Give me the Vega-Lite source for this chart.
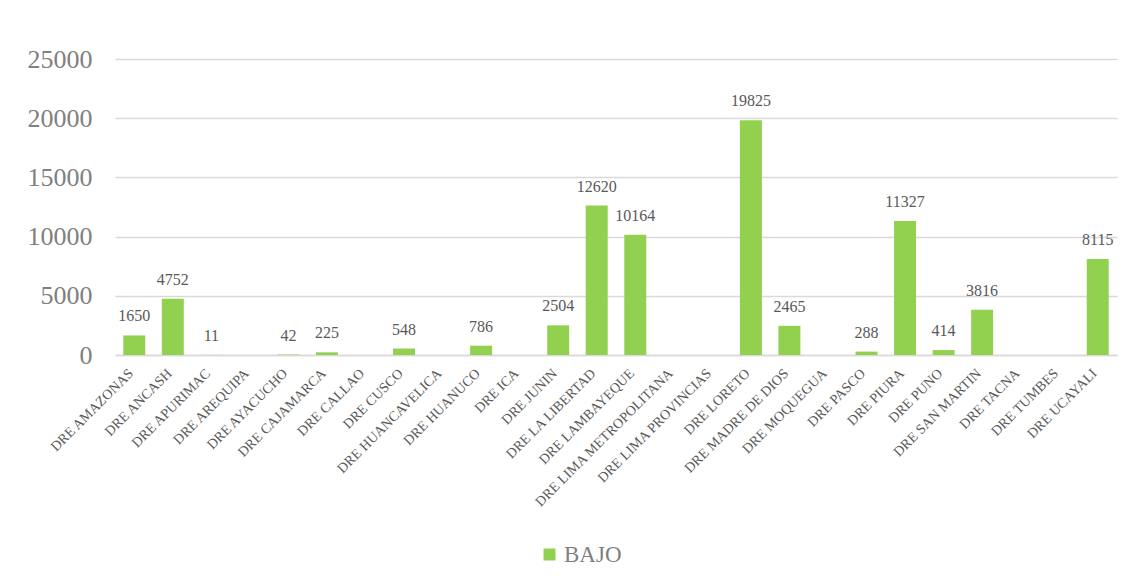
{
  "$schema": "https://vega.github.io/schema/vega-lite/v6.json",
  "width": 1002,
  "height": 296,
  "autosize": {"type": "none"},
  "padding": {"left": 115, "top": 59, "right": 17, "bottom": 230},
  "background": "white",
  "data": {
    "values": [
      {"dre": "DRE AMAZONAS", "nivel": "BAJO", "valor": 1650},
      {"dre": "DRE ANCASH", "nivel": "BAJO", "valor": 4752},
      {"dre": "DRE APURIMAC", "nivel": "BAJO", "valor": 11},
      {"dre": "DRE AREQUIPA", "nivel": "BAJO", "valor": null},
      {"dre": "DRE AYACUCHO", "nivel": "BAJO", "valor": 42},
      {"dre": "DRE CAJAMARCA", "nivel": "BAJO", "valor": 225},
      {"dre": "DRE CALLAO", "nivel": "BAJO", "valor": null},
      {"dre": "DRE CUSCO", "nivel": "BAJO", "valor": 548},
      {"dre": "DRE HUANCAVELICA", "nivel": "BAJO", "valor": null},
      {"dre": "DRE HUANUCO", "nivel": "BAJO", "valor": 786},
      {"dre": "DRE ICA", "nivel": "BAJO", "valor": null},
      {"dre": "DRE JUNIN", "nivel": "BAJO", "valor": 2504},
      {"dre": "DRE LA LIBERTAD", "nivel": "BAJO", "valor": 12620},
      {"dre": "DRE LAMBAYEQUE", "nivel": "BAJO", "valor": 10164},
      {"dre": "DRE LIMA METROPOLITANA", "nivel": "BAJO", "valor": null},
      {"dre": "DRE LIMA PROVINCIAS", "nivel": "BAJO", "valor": null},
      {"dre": "DRE LORETO", "nivel": "BAJO", "valor": 19825},
      {"dre": "DRE MADRE DE DIOS", "nivel": "BAJO", "valor": 2465},
      {"dre": "DRE MOQUEGUA", "nivel": "BAJO", "valor": null},
      {"dre": "DRE PASCO", "nivel": "BAJO", "valor": 288},
      {"dre": "DRE PIURA", "nivel": "BAJO", "valor": 11327},
      {"dre": "DRE PUNO", "nivel": "BAJO", "valor": 414},
      {"dre": "DRE SAN MARTIN", "nivel": "BAJO", "valor": 3816},
      {"dre": "DRE TACNA", "nivel": "BAJO", "valor": null},
      {"dre": "DRE TUMBES", "nivel": "BAJO", "valor": null},
      {"dre": "DRE UCAYALI", "nivel": "BAJO", "valor": 8115}
    ]
  },
  "encoding": {
    "x": {
      "field": "dre",
      "type": "nominal",
      "sort": null,
      "title": null,
      "scale": {
        "domain": ["DRE AMAZONAS", "DRE ANCASH", "DRE APURIMAC", "DRE AREQUIPA", "DRE AYACUCHO", "DRE CAJAMARCA", "DRE CALLAO", "DRE CUSCO", "DRE HUANCAVELICA", "DRE HUANUCO", "DRE ICA", "DRE JUNIN", "DRE LA LIBERTAD", "DRE LAMBAYEQUE", "DRE LIMA METROPOLITANA", "DRE LIMA PROVINCIAS", "DRE LORETO", "DRE MADRE DE DIOS", "DRE MOQUEGUA", "DRE PASCO", "DRE PIURA", "DRE PUNO", "DRE SAN MARTIN", "DRE TACNA", "DRE TUMBES", "DRE UCAYALI"],
        "paddingInner": 0.43,
        "paddingOuter": 0.215
      },
      "axis": {
        "labelAngle": -45,
        "labelFont": "Liberation Serif",
        "labelFontSize": 14,
        "labelColor": "#595959",
        "labelPadding": 11,
        "labelOffset": -8,
        "labelLimit": 400,
        "labelOverlap": false,
        "ticks": false,
        "domain": true,
        "domainColor": "#D9D9D9",
        "domainWidth": 1.5,
        "grid": false
      }
    },
    "y": {
      "field": "valor",
      "type": "quantitative",
      "title": null,
      "scale": {"domain": [0, 25000], "nice": false},
      "axis": {
        "values": [0, 5000, 10000, 15000, 20000, 25000],
        "labelFont": "Liberation Serif",
        "labelFontSize": 26,
        "labelColor": "#808080",
        "labelPadding": 23,
        "ticks": false,
        "domain": false,
        "grid": true,
        "gridColor": "#D9D9D9",
        "gridWidth": 1.5,
        "format": "d"
      }
    }
  },
  "layer": [
    {
      "mark": {"type": "bar"},
      "encoding": {
        "color": {
          "field": "nivel",
          "type": "nominal",
          "scale": {"range": ["#92D050"]},
          "legend": {
            "title": null,
            "orient": "none",
            "legendX": 423,
            "legendY": 484,
            "symbolType": "square",
            "symbolSize": 144,
            "symbolStrokeWidth": 0,
            "labelFont": "Liberation Serif",
            "labelFontSize": 23,
            "labelColor": "#7F7F7F",
            "labelOffset": 3
          }
        }
      }
    },
    {
      "mark": {
        "type": "text",
        "baseline": "alphabetic",
        "dy": -14,
        "font": "Liberation Serif",
        "fontSize": 16,
        "color": "#595959"
      },
      "encoding": {
        "text": {"field": "valor", "type": "quantitative", "format": "d"}
      }
    }
  ],
  "config": {
    "view": {"stroke": null}
  }
}
